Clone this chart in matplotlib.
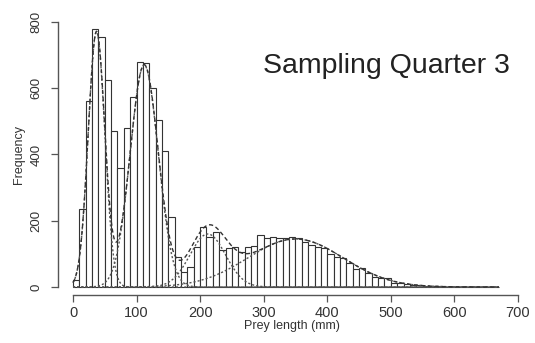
import numpy as np
import matplotlib
matplotlib.use("Agg")
import matplotlib.pyplot as plt

plt.rcParams['font.family'] = ['Liberation Sans', 'DejaVu Sans']

# histogram: 10 mm bins starting at 0
bin_starts = list(range(0, 670, 10))
counts = [20, 235, 560, 780, 755, 625, 470, 360, 480, 575,
          680, 675, 600, 505, 410, 210, 90, 45, 60, 120,
          180, 150, 165, 112, 118, 120, 106, 121, 125, 158,
          148, 150, 148, 148, 150, 148, 136, 128, 120, 118,
          100, 92, 88, 73, 55, 58, 42, 30, 27, 26,
          12, 12, 10, 6, 5, 4, 2, 2, 1, 1,
          1, 0, 1, 0, 0, 1, 0]

# fitted mixture components (mean, sd, peak frequency)
comp_means = [37, 112, 212, 350]
comp_sds = [13, 22, 28, 75]
comp_peaks = [770, 670, 160, 145]

x_ticks = [0, 100, 200, 300, 400, 500, 600, 700]
y_ticks = [0, 200, 400, 600, 800]

fig = plt.figure(figsize=(5.35, 3.43), dpi=100)
ax = fig.add_axes([58/535, 1-295/343, (525-58)/535, (295-15)/343])

def px_to_x(px):
    return (px - 73) / 0.6357

def py_to_y(py):
    return (287 - py) / 0.3313

ax.set_xlim(px_to_x(58), px_to_x(525))
ax.set_ylim(py_to_y(295), py_to_y(15))

ax.bar(bin_starts, counts, width=10, align='edge', facecolor='white',
       edgecolor='#333333', linewidth=0.8, zorder=2)

xs = np.linspace(0, 670, 800)
total = np.zeros_like(xs)
for m, s, p in zip(comp_means, comp_sds, comp_peaks):
    ys = p * np.exp(-0.5 * ((xs - m) / s) ** 2)
    total += ys
    ax.plot(xs, ys, color='#555555', linestyle=(0, (1.5, 1.5)), linewidth=1.0, zorder=3)
ax.plot(xs, total, color='#333333', linestyle=(0, (3, 2)), linewidth=1.0, zorder=4)

for s in ['top', 'right']:
    ax.spines[s].set_visible(False)
ax.spines['left'].set_bounds(0, 800)
ax.spines['bottom'].set_bounds(0, 700)
for s in ['left', 'bottom']:
    ax.spines[s].set_color('#555555')
    ax.spines[s].set_linewidth(1.0)

ax.set_xticks(x_ticks)
ax.set_yticks(y_ticks)
ax.set_yticklabels([str(v) for v in y_ticks], rotation=90, va='center')
ax.tick_params(axis='both', length=5, width=0.9, color='#555555', labelcolor='#333333')
ax.tick_params(axis='x', labelsize=10.5, pad=3)
ax.tick_params(axis='y', labelsize=9.5, pad=6)

ax.set_xlabel('Prey length (mm)', fontsize=9, color='#333333', labelpad=0)
ax.set_ylabel('Frequency', fontsize=9, color='#333333', labelpad=4)

fig.text(263/535, 1-66/343, 'Sampling Quarter 3', fontsize=20.5, ha='left', va='center', color='#222222')

fig.savefig('out.png', dpi=100)
